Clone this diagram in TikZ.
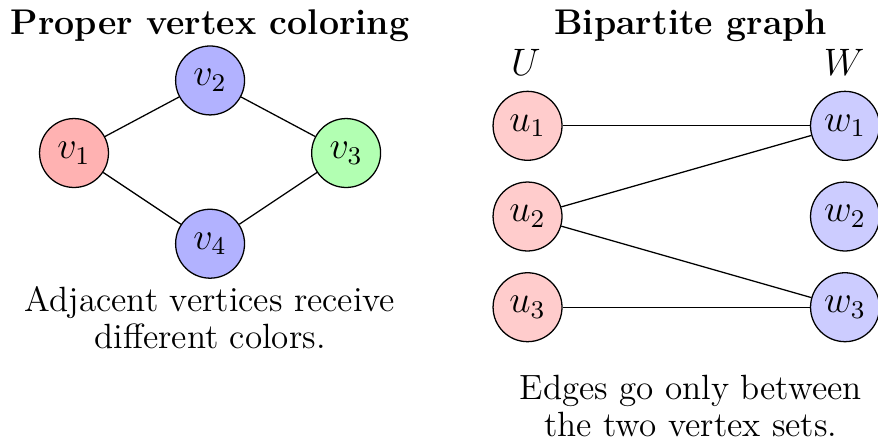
\documentclass[tikz,border=0pt]{standalone}
\usepackage{tikz}

\begin{document}
\begin{tikzpicture}[thick,
    vertex/.style={circle, draw, thin, minimum size=0.76cm, inner sep=0pt, font=\fontsize{11.5}{12}\selectfont},
    titulo/.style={font=\fontsize{11.2}{12}\selectfont\bfseries},
    nota/.style={align=center, font=\fontsize{11}{11.6}\selectfont}]
                \useasboundingbox (-0.816,-3.23) rectangle (8.864,1.687);

                % Coloracion propia de vertices
                \node[titulo] (tit1) at (1.5,1.40) {Proper vertex coloring};
                \node[vertex, fill=red!30] (v1) at (0,0) {$v_1$};
                \node[vertex, fill=blue!30] (v2) at (1.5,0.8) {$v_2$};
                \node[vertex, fill=green!30] (v3) at (3,0) {$v_3$};
                \node[vertex, fill=blue!30] (v4) at (1.5,-1) {$v_4$};
                \draw[thin] (v1) -- (v2) -- (v3) -- (v4) -- (v1);
                \node[nota] (txt1) at (1.5,-1.82) {Adjacent vertices receive\\different colors.};

                % Grafo bipartito
                \node[titulo] (tit2) at (6.8,1.40) {Bipartite graph};
                \node[font=\fontsize{11.5}{12}\selectfont] (U) at (4.98,1.0) {$U$};
                \node[font=\fontsize{11.5}{12}\selectfont] (W) at (8.49,1.0) {$W$};
                \node[vertex, fill=red!20] (u1) at (5,0.3) {$u_1$};
                \node[vertex, fill=red!20] (u2) at (5,-0.7) {$u_2$};
                \node[vertex, fill=red!20] (u3) at (5,-1.7) {$u_3$};
                \node[vertex, fill=blue!20] (w1) at (8.5,0.3) {$w_1$};
                \node[vertex, fill=blue!20] (w2) at (8.5,-0.7) {$w_2$};
                \node[vertex, fill=blue!20] (w3) at (8.5,-1.7) {$w_3$};
                \draw[thin] (u1) -- (w1);
                \draw[thin] (u2) -- (w1);
                \draw[thin] (u2) -- (w3);
                \draw[thin] (u3) -- (w3);
                \node[nota] (txt2) at (6.8,-2.79) {Edges go only between\\the two vertex sets.};

\end{tikzpicture}
\end{document}
